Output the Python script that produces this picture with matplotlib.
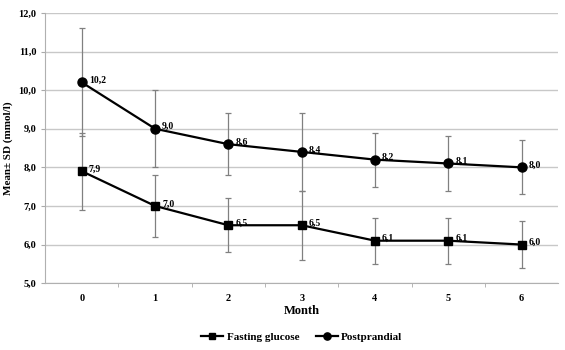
import matplotlib.pyplot as plt
from matplotlib.ticker import FuncFormatter, MultipleLocator

months = [0, 1, 2, 3, 4, 5, 6]
fasting = [7.9, 7.0, 6.5, 6.5, 6.1, 6.1, 6.0]
fasting_sd = [1.0, 0.8, 0.7, 0.9, 0.6, 0.6, 0.6]
postprandial = [10.2, 9.0, 8.6, 8.4, 8.2, 8.1, 8.0]
postprandial_sd = [1.4, 1.0, 0.8, 1.0, 0.7, 0.7, 0.7]

plt.rcParams['font.family'] = ['Liberation Serif', 'DejaVu Serif']
plt.rcParams['font.weight'] = 'bold'

fig = plt.figure(figsize=(5.65, 3.5), dpi=100)
ax = fig.add_axes([0.080, 0.191, 0.908, 0.772])

for vals, sd, mk, ms, name in [(fasting, fasting_sd, 's', 6, 'Fasting glucose'),
                                (postprandial, postprandial_sd, 'o', 6.5, 'Postprandial')]:
    ax.errorbar(months, vals, yerr=sd, fmt='none', ecolor='#808080', elinewidth=0.9,
                capsize=2.5, capthick=0.9, zorder=2)
    ax.plot(months, vals, color='black', lw=1.6, marker=mk, markersize=ms, label=name, zorder=3)
    for m, v in zip(months, vals):
        ax.annotate(f'{v:.1f}'.replace('.', ','), (m, v), xytext=(5, 1.5),
                    textcoords='offset points', fontsize=7, fontweight='bold', va='center')

ax.set_xlim(-0.5, 6.5)
ax.set_ylim(5, 12)
ax.yaxis.set_major_locator(MultipleLocator(1))
ax.yaxis.set_major_formatter(FuncFormatter(lambda v, p: f'{v:.1f}'.replace('.', ',')))
ax.set_xticks(months)
ax.set_xticks([m + 0.5 for m in months[:-1]], minor=True)
ax.tick_params(axis='x', which='major', length=0, labelsize=7.5, pad=8)
ax.tick_params(axis='x', which='minor', length=3, color='#aaaaaa')
ax.tick_params(axis='y', length=3, color='#aaaaaa', labelsize=7.5)
ax.grid(axis='y', color='#c8c8c8', lw=1)
ax.set_axisbelow(True)
for s in ['top', 'right']:
    ax.spines[s].set_visible(False)
for s in ['left', 'bottom']:
    ax.spines[s].set_color('#b0b0b0')

ax.set_xlabel('Month', fontsize=9, fontweight='bold', labelpad=1)
ax.set_ylabel('Mean± SD (mmol/l)', fontsize=8, fontweight='bold')

ax.legend(loc='center', bbox_to_anchor=(0.5, -0.2), ncol=2, frameon=False,
          fontsize=8, handlelength=2, handletextpad=0.3, columnspacing=1.5, markerscale=0.8)

plt.savefig('out.png', dpi=100)
